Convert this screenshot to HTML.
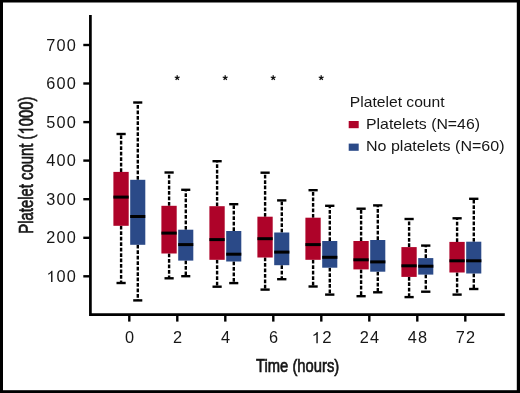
<!DOCTYPE html>
<html><head><meta charset="utf-8"><title>Platelet count</title>
<style>
html,body{margin:0;padding:0;background:#fff;}
body{width:520px;height:393px;overflow:hidden;position:relative;}
svg{position:absolute;left:0;top:0;display:block;will-change:transform;transform:translateZ(0);}
text{font-family:"Liberation Sans",sans-serif;fill:#161616;}
.tl{font-size:15.7px;letter-spacing:1.15px;}
.st{font-size:15px;}
.lg{font-size:14.8px;}
.al{font-size:19px;stroke:#161616;stroke-width:0.7px;}
.ax{stroke:#000;stroke-width:2.4;fill:none;}
.w{stroke:#000;stroke-width:2.4;stroke-dasharray:3.75 1.72;}
.c{stroke:#000;stroke-width:2.4;}
.m{stroke:#000;stroke-width:3;}
</style></head><body>
<svg width="520" height="393" viewBox="0 0 520 393">
<rect x="0" y="0" width="520" height="393" fill="#fff"/>
<!-- frame -->
<rect x="0" y="0" width="520" height="2.5" fill="#000"/>
<rect x="0" y="390.2" width="520" height="2.8" fill="#000"/>
<rect x="0" y="0" width="3" height="393" fill="#000"/>
<rect x="516.8" y="0" width="3.2" height="393" fill="#000"/>
<!-- axes -->
<polyline points="90.4,15.1 90.4,314.6 504.8,314.6" class="ax" style="stroke-width:2.7" stroke-linejoin="miter"/>
<line x1="83.3" y1="45.0" x2="90.4" y2="45.0" class="ax"/>
<text transform="translate(77.1,50.6) scale(1.04,1)" text-anchor="end" class="tl">700</text>
<line x1="83.3" y1="83.5" x2="90.4" y2="83.5" class="ax"/>
<text transform="translate(77.1,89.1) scale(1.04,1)" text-anchor="end" class="tl">600</text>
<line x1="83.3" y1="122.1" x2="90.4" y2="122.1" class="ax"/>
<text transform="translate(77.1,127.7) scale(1.04,1)" text-anchor="end" class="tl">500</text>
<line x1="83.3" y1="160.6" x2="90.4" y2="160.6" class="ax"/>
<text transform="translate(77.1,166.2) scale(1.04,1)" text-anchor="end" class="tl">400</text>
<line x1="83.3" y1="199.2" x2="90.4" y2="199.2" class="ax"/>
<text transform="translate(77.1,204.8) scale(1.04,1)" text-anchor="end" class="tl">300</text>
<line x1="83.3" y1="237.8" x2="90.4" y2="237.8" class="ax"/>
<text transform="translate(77.1,243.3) scale(1.04,1)" text-anchor="end" class="tl">200</text>
<line x1="83.3" y1="276.3" x2="90.4" y2="276.3" class="ax"/>
<path transform="translate(46.40,281.90) scale(0.007973,-0.007666)" d="M763 0H583V1147Q518 1085 412.5 1023T223 930V1104Q373 1174.5 485 1275T644 1466H763Z" fill="#161616" />
<text transform="translate(77.1,281.9) scale(1.04,1)" text-anchor="end" class="tl">00</text>
<line x1="129.3" y1="314" x2="129.3" y2="321.6" class="ax"/>
<text transform="translate(130.1,343.2) scale(1.04,1)" text-anchor="middle" class="tl">0</text>
<line x1="177.3" y1="314" x2="177.3" y2="321.6" class="ax"/>
<text transform="translate(178.1,343.2) scale(1.04,1)" text-anchor="middle" class="tl">2</text>
<line x1="225.3" y1="314" x2="225.3" y2="321.6" class="ax"/>
<text transform="translate(226.1,343.2) scale(1.04,1)" text-anchor="middle" class="tl">4</text>
<line x1="273.3" y1="314" x2="273.3" y2="321.6" class="ax"/>
<text transform="translate(274.1,343.2) scale(1.04,1)" text-anchor="middle" class="tl">6</text>
<line x1="321.3" y1="314" x2="321.3" y2="321.6" class="ax"/>
<path transform="translate(311.70,343.20) scale(0.007973,-0.007666)" d="M763 0H583V1147Q518 1085 412.5 1023T223 930V1104Q373 1174.5 485 1275T644 1466H763Z" fill="#161616" />
<text transform="translate(322.2,343.2) scale(1.07,1)" class="tl">2</text>
<line x1="369.3" y1="314" x2="369.3" y2="321.6" class="ax"/>
<text transform="translate(370.1,343.2) scale(1.04,1)" text-anchor="middle" class="tl">24</text>
<line x1="417.3" y1="314" x2="417.3" y2="321.6" class="ax"/>
<text transform="translate(418.1,343.2) scale(1.04,1)" text-anchor="middle" class="tl">48</text>
<line x1="465.3" y1="314" x2="465.3" y2="321.6" class="ax"/>
<text transform="translate(466.1,343.2) scale(1.04,1)" text-anchor="middle" class="tl">72</text>
<line x1="121.1" y1="171.9" x2="121.1" y2="134.0" class="w"/>
<line x1="121.1" y1="225.8" x2="121.1" y2="283.0" class="w"/>
<line x1="116.5" y1="134.0" x2="125.7" y2="134.0" class="c"/>
<line x1="116.5" y1="283.0" x2="125.7" y2="283.0" class="c"/>
<rect x="113.4" y="171.9" width="15.3" height="53.9" fill="#ae0329"/>
<line x1="113.4" y1="197.1" x2="128.7" y2="197.1" class="m"/>
<line x1="137.8" y1="179.8" x2="137.8" y2="102.5" class="w"/>
<line x1="137.8" y1="244.8" x2="137.8" y2="300.4" class="w"/>
<line x1="133.2" y1="102.5" x2="142.3" y2="102.5" class="c"/>
<line x1="133.2" y1="300.4" x2="142.3" y2="300.4" class="c"/>
<rect x="130.2" y="179.8" width="15.1" height="65.0" fill="#2b4a88"/>
<line x1="130.2" y1="216.5" x2="145.3" y2="216.5" class="m"/>
<line x1="169.1" y1="205.8" x2="169.1" y2="172.5" class="w"/>
<line x1="169.1" y1="253.5" x2="169.1" y2="278.3" class="w"/>
<line x1="164.5" y1="172.5" x2="173.7" y2="172.5" class="c"/>
<line x1="164.5" y1="278.3" x2="173.7" y2="278.3" class="c"/>
<rect x="161.4" y="205.8" width="15.3" height="47.7" fill="#ae0329"/>
<line x1="161.4" y1="233.1" x2="176.7" y2="233.1" class="m"/>
<line x1="185.8" y1="229.7" x2="185.8" y2="189.8" class="w"/>
<line x1="185.8" y1="260.6" x2="185.8" y2="276.2" class="w"/>
<line x1="181.2" y1="189.8" x2="190.3" y2="189.8" class="c"/>
<line x1="181.2" y1="276.2" x2="190.3" y2="276.2" class="c"/>
<rect x="178.2" y="229.7" width="15.1" height="30.9" fill="#2b4a88"/>
<line x1="178.2" y1="244.6" x2="193.3" y2="244.6" class="m"/>
<line x1="217.1" y1="206.2" x2="217.1" y2="161.2" class="w"/>
<line x1="217.1" y1="259.8" x2="217.1" y2="286.7" class="w"/>
<line x1="212.5" y1="161.2" x2="221.7" y2="161.2" class="c"/>
<line x1="212.5" y1="286.7" x2="221.7" y2="286.7" class="c"/>
<rect x="209.4" y="206.2" width="15.3" height="53.6" fill="#ae0329"/>
<line x1="209.4" y1="239.6" x2="224.7" y2="239.6" class="m"/>
<line x1="233.8" y1="231.0" x2="233.8" y2="204.2" class="w"/>
<line x1="233.8" y1="261.5" x2="233.8" y2="283.1" class="w"/>
<line x1="229.2" y1="204.2" x2="238.3" y2="204.2" class="c"/>
<line x1="229.2" y1="283.1" x2="238.3" y2="283.1" class="c"/>
<rect x="226.2" y="231.0" width="15.1" height="30.5" fill="#2b4a88"/>
<line x1="226.2" y1="254.2" x2="241.3" y2="254.2" class="m"/>
<line x1="265.1" y1="216.7" x2="265.1" y2="172.7" class="w"/>
<line x1="265.1" y1="257.5" x2="265.1" y2="289.6" class="w"/>
<line x1="260.5" y1="172.7" x2="269.7" y2="172.7" class="c"/>
<line x1="260.5" y1="289.6" x2="269.7" y2="289.6" class="c"/>
<rect x="257.4" y="216.7" width="15.3" height="40.8" fill="#ae0329"/>
<line x1="257.4" y1="238.7" x2="272.7" y2="238.7" class="m"/>
<line x1="281.8" y1="232.5" x2="281.8" y2="200.4" class="w"/>
<line x1="281.8" y1="265.2" x2="281.8" y2="279.2" class="w"/>
<line x1="277.1" y1="200.4" x2="286.4" y2="200.4" class="c"/>
<line x1="277.1" y1="279.2" x2="286.4" y2="279.2" class="c"/>
<rect x="274.2" y="232.5" width="15.1" height="32.7" fill="#2b4a88"/>
<line x1="274.2" y1="252.1" x2="289.4" y2="252.1" class="m"/>
<line x1="313.1" y1="217.7" x2="313.1" y2="190.2" class="w"/>
<line x1="313.1" y1="259.8" x2="313.1" y2="286.5" class="w"/>
<line x1="308.5" y1="190.2" x2="317.7" y2="190.2" class="c"/>
<line x1="308.5" y1="286.5" x2="317.7" y2="286.5" class="c"/>
<rect x="305.4" y="217.7" width="15.3" height="42.1" fill="#ae0329"/>
<line x1="305.4" y1="244.6" x2="320.7" y2="244.6" class="m"/>
<line x1="329.8" y1="241.0" x2="329.8" y2="205.8" class="w"/>
<line x1="329.8" y1="267.7" x2="329.8" y2="294.6" class="w"/>
<line x1="325.1" y1="205.8" x2="334.4" y2="205.8" class="c"/>
<line x1="325.1" y1="294.6" x2="334.4" y2="294.6" class="c"/>
<rect x="322.2" y="241.0" width="15.1" height="26.7" fill="#2b4a88"/>
<line x1="322.2" y1="257.3" x2="337.4" y2="257.3" class="m"/>
<line x1="361.1" y1="241.0" x2="361.1" y2="208.7" class="w"/>
<line x1="361.1" y1="269.4" x2="361.1" y2="296.2" class="w"/>
<line x1="356.5" y1="208.7" x2="365.7" y2="208.7" class="c"/>
<line x1="356.5" y1="296.2" x2="365.7" y2="296.2" class="c"/>
<rect x="353.4" y="241.0" width="15.3" height="28.4" fill="#ae0329"/>
<line x1="353.4" y1="259.8" x2="368.7" y2="259.8" class="m"/>
<line x1="377.8" y1="240.0" x2="377.8" y2="205.4" class="w"/>
<line x1="377.8" y1="271.7" x2="377.8" y2="292.3" class="w"/>
<line x1="373.1" y1="205.4" x2="382.4" y2="205.4" class="c"/>
<line x1="373.1" y1="292.3" x2="382.4" y2="292.3" class="c"/>
<rect x="370.2" y="240.0" width="15.1" height="31.7" fill="#2b4a88"/>
<line x1="370.2" y1="261.9" x2="385.4" y2="261.9" class="m"/>
<line x1="409.1" y1="247.1" x2="409.1" y2="219.0" class="w"/>
<line x1="409.1" y1="276.9" x2="409.1" y2="297.1" class="w"/>
<line x1="404.5" y1="219.0" x2="413.7" y2="219.0" class="c"/>
<line x1="404.5" y1="297.1" x2="413.7" y2="297.1" class="c"/>
<rect x="401.4" y="247.1" width="15.3" height="29.8" fill="#ae0329"/>
<line x1="401.4" y1="265.8" x2="416.7" y2="265.8" class="m"/>
<line x1="425.8" y1="258.1" x2="425.8" y2="245.6" class="w"/>
<line x1="425.8" y1="274.6" x2="425.8" y2="291.7" class="w"/>
<line x1="421.1" y1="245.6" x2="430.4" y2="245.6" class="c"/>
<line x1="421.1" y1="291.7" x2="430.4" y2="291.7" class="c"/>
<rect x="418.2" y="258.1" width="15.1" height="16.5" fill="#2b4a88"/>
<line x1="418.2" y1="266.2" x2="433.4" y2="266.2" class="m"/>
<line x1="457.1" y1="241.9" x2="457.1" y2="218.3" class="w"/>
<line x1="457.1" y1="272.5" x2="457.1" y2="294.6" class="w"/>
<line x1="452.5" y1="218.3" x2="461.7" y2="218.3" class="c"/>
<line x1="452.5" y1="294.6" x2="461.7" y2="294.6" class="c"/>
<rect x="449.4" y="241.9" width="15.3" height="30.6" fill="#ae0329"/>
<line x1="449.4" y1="260.8" x2="464.7" y2="260.8" class="m"/>
<line x1="473.8" y1="241.7" x2="473.8" y2="198.8" class="w"/>
<line x1="473.8" y1="273.5" x2="473.8" y2="289.0" class="w"/>
<line x1="469.1" y1="198.8" x2="478.4" y2="198.8" class="c"/>
<line x1="469.1" y1="289.0" x2="478.4" y2="289.0" class="c"/>
<rect x="466.2" y="241.7" width="15.1" height="31.8" fill="#2b4a88"/>
<line x1="466.2" y1="260.8" x2="481.4" y2="260.8" class="m"/>
<path d="M177.20,77.80L177.20,75.20M177.20,77.80L179.67,77.00M177.20,77.80L178.73,79.90M177.20,77.80L175.67,79.90M177.20,77.80L174.73,77.00" stroke="#111" stroke-width="1.3" fill="none"/><path d="M225.20,77.80L225.20,75.20M225.20,77.80L227.67,77.00M225.20,77.80L226.73,79.90M225.20,77.80L223.67,79.90M225.20,77.80L222.73,77.00" stroke="#111" stroke-width="1.3" fill="none"/><path d="M273.20,77.80L273.20,75.20M273.20,77.80L275.67,77.00M273.20,77.80L274.73,79.90M273.20,77.80L271.67,79.90M273.20,77.80L270.73,77.00" stroke="#111" stroke-width="1.3" fill="none"/><path d="M321.20,77.80L321.20,75.20M321.20,77.80L323.67,77.00M321.20,77.80L322.73,79.90M321.20,77.80L319.67,79.90M321.20,77.80L318.73,77.00" stroke="#111" stroke-width="1.3" fill="none"/>
<!-- legend -->
<text x="349.8" y="106.7" class="lg" textLength="94.8" lengthAdjust="spacingAndGlyphs">Platelet count</text>
<rect x="348.7" y="121" width="10" height="7.2" fill="#ae0329"/>
<text x="366.0" y="128.6" class="lg" textLength="114" lengthAdjust="spacingAndGlyphs">Platelets (N=46)</text>
<rect x="348.7" y="143.6" width="10" height="7.2" fill="#2b4a88"/>
<text x="366.0" y="151.2" class="lg" textLength="138.5" lengthAdjust="spacingAndGlyphs">No platelets (N=60)</text>
<!-- axis labels -->
<text x="256.0" y="372.2" class="al" textLength="83.2" lengthAdjust="spacingAndGlyphs">Time (hours)</text>
<g transform="translate(33.1,233.7) rotate(-90) scale(0.7437,1)" style="font-size:20px">
<text x="0" y="0" class="al" style="font-size:20px">Platelet count (</text>
<path transform="translate(133.34,0.00) scale(0.009766,-0.009766)" d="M763 0H583V1147Q518 1085 412.5 1023T223 930V1104Q373 1174.5 485 1275T644 1466H763Z" fill="#161616" stroke="#161616" stroke-width="66"/>
<text x="144.47" y="0" class="al" style="font-size:20px">000)</text>
</g>
</svg>
</body></html>
